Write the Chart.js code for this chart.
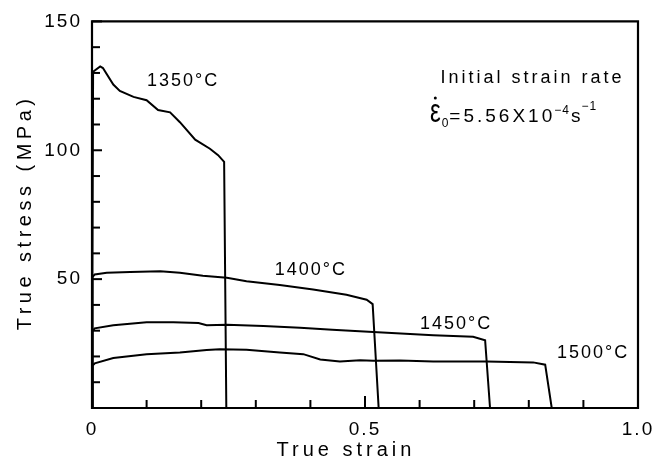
<!DOCTYPE html>
<html>
<head>
<meta charset="utf-8">
<script src="https://cdn.jsdelivr.net/npm/chart.js@4.4.1/dist/chart.umd.min.js"></script>
<style>
  html, body { margin: 0; padding: 0; background: #fff; }
  #wrap { width: 669px; height: 464px; position: relative; }
</style>
</head>
<body>
<div id="wrap"><canvas id="c"></canvas></div>
<script>
// ---- Data ----
const strain1350 = [0, 0.002, 0.015, 0.02, 0.039, 0.051, 0.076, 0.1, 0.121, 0.143, 0.161, 0.189, 0.216, 0.231, 0.242, 0.246];
const stress1350 = [0, 130.5, 132.5, 131.9, 125.5, 123, 120.7, 119.4, 115.6, 114.7, 110.9, 104.1, 100.6, 98.1, 95.5, 0];

const strain1400 = [0, 0.001, 0.005, 0.027, 0.07, 0.125, 0.161, 0.203, 0.247, 0.283, 0.344, 0.405, 0.466, 0.503, 0.514, 0.525];
const stress1400 = [0, 50.9, 51.8, 52.5, 52.8, 53.1, 52.5, 51.3, 50.5, 49.2, 47.7, 46, 43.9, 42, 40.3, 0];

const strain1450 = [0, 0.001, 0.005, 0.039, 0.1, 0.149, 0.195, 0.21, 0.247, 0.314, 0.381, 0.44, 0.515, 0.625, 0.698, 0.72, 0.729];
const stress1450 = [0, 29.8, 30.9, 32.1, 33.3, 33.3, 33, 32.1, 32.3, 31.8, 31.1, 30.4, 29.5, 28.2, 27.6, 26.3, 0];

const strain1500 = [0, 0.001, 0.005, 0.039, 0.1, 0.161, 0.21, 0.234, 0.283, 0.344, 0.387, 0.418, 0.454, 0.491, 0.515, 0.564, 0.625, 0.723, 0.808, 0.83, 0.842];
const stress1500 = [0, 16.5, 17.3, 19.4, 20.9, 21.5, 22.5, 22.8, 22.6, 21.5, 20.9, 18.8, 18, 18.5, 18.3, 18.4, 18, 18, 17.7, 16.8, 0];

const seriesNames = ['1350°C', '1400°C', '1450°C', '1500°C'];
// label anchor points in data units [strain, stress]
const labelAnchors = [[0.165, 126.7], [0.399, 53.6], [0.665, 32.5], [0.916, 21.4]];

const xTickLabels = { '0': '0', '0.5': '0.5', '1': '1.0' };
const yTickLabels = { '50': '50', '100': '100', '150': '150' };

const xTitle = 'True strain';
const yTitle = 'True stress (MPa)';
const xTitleAnchor = 0.4615;     // strain value under which the x title is centred
const noteLine1 = 'Initial strain rate';
const noteAnchor1 = [0.804, 128.2];
const noteAnchor2 = [0.619, 111];
const formulaParts = ['ε', '0', '=5.56X10', '−4', 's', '−1'];

function pts(xs, ys) { return xs.map((x, i) => ({ x: x, y: ys[i] })); }

const FONT = '"Liberation Sans", Arial, sans-serif';

const ds = [
  [strain1350, stress1350],
  [strain1400, stress1400],
  [strain1450, stress1450],
  [strain1500, stress1500]
].map((s, i) => ({
  label: seriesNames[i],
  data: pts(s[0], s[1]),
  borderColor: '#000',
  borderWidth: 2,
  pointRadius: 0,
  tension: 0,
  fill: false
}));

const spacingPlugin = {
  id: 'spacing',
  beforeDraw(chart) { chart.ctx.letterSpacing = '2px'; }
};

function spacedCenter(ctx, text, cx, cy, spacing) {
  // centre text whose letterSpacing adds a trailing gap
  ctx.letterSpacing = spacing + 'px';
  const w = ctx.measureText(text).width - spacing;
  ctx.textAlign = 'left';
  ctx.fillText(text, cx - w / 2, cy);
}

const framePlugin = {
  id: 'frame',
  afterDraw(chart) {
    const ctx = chart.ctx;
    const a = chart.chartArea;
    const xs = chart.scales.x, ys = chart.scales.y;
    ctx.save();
    ctx.strokeStyle = '#000';
    ctx.lineWidth = 2.2;
    ctx.beginPath();
    ctx.rect(a.left, a.top, a.right - a.left, a.bottom - a.top);
    ctx.stroke();
    // inward ticks
    ctx.lineWidth = 2;
    xs.ticks.forEach(t => {
      const px = xs.getPixelForValue(t.value);
      const major = Math.abs(t.value * 2 - Math.round(t.value * 2)) < 1e-9;
      const len = major ? 12 : 8;
      ctx.beginPath();
      ctx.moveTo(px, a.bottom);
      ctx.lineTo(px, a.bottom - len);
      ctx.stroke();
    });
    ys.ticks.forEach(t => {
      const py = ys.getPixelForValue(t.value);
      const major = Math.round(t.value) % 50 === 0;
      const len = major ? 10 : 8;
      ctx.beginPath();
      ctx.moveTo(a.left, py);
      ctx.lineTo(a.left + len, py);
      ctx.stroke();
    });

    ctx.fillStyle = '#000';
    ctx.textBaseline = 'middle';

    // axis titles
    ctx.font = '20px ' + FONT;
    spacedCenter(ctx, xTitle, xs.getPixelForValue(xTitleAnchor), 450, 4);
    ctx.save();
    ctx.translate(25, (a.top + a.bottom) / 2);
    ctx.rotate(-Math.PI / 2);
    spacedCenter(ctx, yTitle, 0, 0, 4.5);
    ctx.restore();

    // curve labels
    ctx.font = '18px ' + FONT;
    seriesNames.forEach((n, i) => {
      const px = xs.getPixelForValue(labelAnchors[i][0]);
      const py = ys.getPixelForValue(labelAnchors[i][1]);
      spacedCenter(ctx, n, px, py, 2);
    });

    // note line 1
    ctx.font = '18px ' + FONT;
    spacedCenter(ctx, noteLine1, xs.getPixelForValue(noteAnchor1[0]), ys.getPixelForValue(noteAnchor1[1]), 3);

    // formula
    ctx.textAlign = 'left';
    ctx.textBaseline = 'alphabetic';
    let x = xs.getPixelForValue(noteAnchor2[0]);
    const base = ys.getPixelForValue(noteAnchor2[1]);
    ctx.letterSpacing = '0px';
    ctx.font = '24px ' + FONT;
    const ew = ctx.measureText(formulaParts[0]).width;
    ctx.save();
    ctx.translate(x, base);
    ctx.scale(1, 1.35);
    ctx.fillText(formulaParts[0], 0, 0);
    ctx.restore();
    ctx.beginPath();
    ctx.arc(x + ew / 2, base - 24, 1.5, 0, Math.PI * 2);
    ctx.fill();
    x += ew + 1;
    ctx.font = '12px ' + FONT;
    ctx.fillText(formulaParts[1], x, base + 5);
    x += ctx.measureText(formulaParts[1]).width + 1;
    ctx.letterSpacing = '3px';
    ctx.font = '19px ' + FONT;
    ctx.fillText(formulaParts[2], x, base);
    x += ctx.measureText(formulaParts[2]).width - 1;
    ctx.letterSpacing = '1px';
    ctx.font = '12px ' + FONT;
    ctx.fillText(formulaParts[3], x, base - 8);
    x += ctx.measureText(formulaParts[3]).width + 1;
    ctx.font = '19px ' + FONT;
    ctx.fillText(formulaParts[4], x, base);
    x += ctx.measureText(formulaParts[4]).width;
    ctx.font = '12px ' + FONT;
    ctx.fillText(formulaParts[5], x, base - 12);
    ctx.restore();
  }
};

new Chart(document.getElementById('c'), {
  type: 'line',
  data: { datasets: ds },
  options: {
    responsive: true,
    maintainAspectRatio: false,
    animation: false,
    layout: { padding: { left: 0, top: 16, right: 31, bottom: 0 } },
    plugins: { legend: { display: false }, tooltip: { enabled: false } },
    scales: {
      x: {
        type: 'linear',
        min: 0, max: 1,
        afterFit(s) { s.height = 56; },
        border: { display: false },
        grid: { display: false, drawTicks: false },
        ticks: {
          stepSize: 0.1,
          autoSkip: false,
          maxRotation: 0,
          padding: 10,
          color: '#000',
          font: { family: FONT, size: 19 },
          callback(v) {
            const k = String(Math.round(v * 10) / 10);
            return xTickLabels[k] !== undefined ? xTickLabels[k] : '';
          }
        }
      },
      y: {
        type: 'linear',
        min: 0, max: 150,
        afterFit(s) { s.width = 92; },
        border: { display: false },
        grid: { display: false, drawTicks: false },
        ticks: {
          stepSize: 10,
          autoSkip: false,
          padding: 10,
          color: '#000',
          font: { family: FONT, size: 19 },
          callback(v) {
            const k = String(Math.round(v));
            return yTickLabels[k] !== undefined ? yTickLabels[k] : '';
          }
        }
      }
    }
  },
  plugins: [spacingPlugin, framePlugin]
});
</script>
</body>
</html>
